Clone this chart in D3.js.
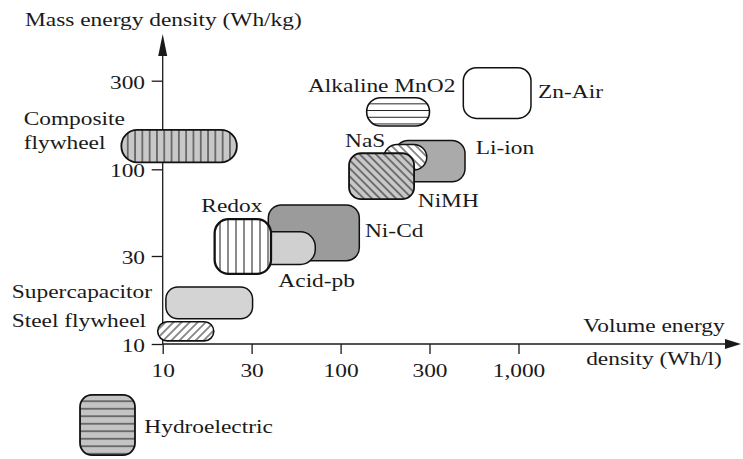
<!DOCTYPE html>
<meta charset="utf-8">
<html>
<style>
  body { margin: 0; background: #fff; }
  .chart text {
    fill: #1a1a1a;
    font: 19.5px "Liberation Serif", "Times New Roman", serif;
  }
  .axis line { stroke: #1a1a1a; stroke-width: 1.3; }
</style>
<script type="text/javascript" src="https://cdn.jsdelivr.net/npm/d3@7"></script>

<body>
  <svg class="chart"></svg>
</body>
<script>
  var width = 743;
  var height = 459;

  // storage technologies (draw order)
  var names = ["Composite flywheel", "Supercapacitor", "Steel flywheel", "Ni-Cd", "Acid-pb", "Redox",
    "Zn-Air", "Alkaline MnO2", "Li-ion", "NaS", "NiMH", "Hydroelectric"];
  // volume energy density range (Wh/l)
  var volMin = [6, 10.4, 9.4, 37.6, 32, 19, 474, 138, 196, 171, 111, 3.6];
  var volMax = [25, 30.4, 18.8, 126, 71, 39, 1184, 300, 485, 290, 248, 7.1];
  // mass energy density range (Wh/kg)
  var massMin = [109, 13.7, 10.4, 28.3, 27, 24, 188, 171, 84, 99, 66, 2.5];
  var massMax = [163, 20.4, 13.2, 61, 42, 50, 352, 243, 143, 136, 122, 5.3];

  var xTicks = [10, 30, 100, 300, 1000];
  var yTicks = [10, 30, 100, 300];

  // look of each box
  var style = {
    "Composite flywheel": { fill: "url(#vl7)", rx: 16, sw: 1.8 },
    "Supercapacitor": { fill: "#d4d4d4", rx: 12, sw: 1.5 },
    "Steel flywheel": { fill: "url(#dgF)", rx: 9.5, sw: 1.6 },
    "Ni-Cd": { fill: "#9b9b9b", rx: 13, sw: 1.5 },
    "Acid-pb": { fill: "#d0d0d0", rx: 15, sw: 1.5 },
    "Redox": { fill: "url(#vl8)", rx: 14, sw: 2.3 },
    "Zn-Air": { fill: "#fff", rx: 13, sw: 1.5 },
    "Alkaline MnO2": { fill: "url(#hlA)", rx: 14, sw: 1.6 },
    "Li-ion": { fill: "#aaaaaa", rx: 13, sw: 1.5 },
    "NaS": { fill: "url(#dgB)", rx: 13, sw: 1.5 },
    "NiMH": { fill: "url(#dgBg)", rx: 12, sw: 1.8 },
    "Hydroelectric": { fill: "url(#hlH)", rx: 12, sw: 1.8 }
  };

  // label offsets from the top-left corner of each box
  var labels = {
    "Composite flywheel": { lines: ["Composite", "flywheel"], dx: -97.7, dy: -5 },
    "Supercapacitor": { lines: ["Supercapacitor"], dx: -154, dy: 11.6 },
    "Steel flywheel": { lines: ["Steel flywheel"], dx: -146, dy: 5 },
    "Ni-Cd": { lines: ["Ni-Cd"], dx: 96.7, dy: 31.7 },
    "Acid-pb": { lines: ["Acid-pb"], dx: 22, dy: 55 },
    "Redox": { lines: ["Redox"], dx: -13.3, dy: -7.6 },
    "Zn-Air": { lines: ["Zn-Air"], dx: 74.7, dy: 30.3 },
    "Alkaline MnO2": { lines: ["Alkaline MnO2"], dx: -58.7, dy: -6 },
    "Li-ion": { lines: ["Li-ion"], dx: 80.7, dy: 13.3 },
    "NaS": { lines: ["NaS"], dx: -39, dy: 2.4 },
    "NiMH": { lines: ["NiMH"], dx: 68.7, dy: 53.4 },
    "Hydroelectric": { lines: ["Hydroelectric"], dx: 64.3, dy: 38 }
  };

  var x = d3.scaleLog()
    .domain(xTicks)
    .range([162.7, 251.6, 340.6, 429.5, 518.5]);

  var y = d3.scaleLog()
    .domain(yTicks)
    .range([344, 256, 169.3, 80.7]);

  var chart = d3.select(".chart")
    .attr("width", width)
    .attr("height", height);

  var stretch = "scale(1.2,1)";

  function label(txt, px, py, anchor) {
    chart.append("text")
      .attr("transform", "translate(" + px + "," + py + ") " + stretch)
      .attr("text-anchor", anchor || "start")
      .text(txt);
  }

  // hatch patterns
  var defs = chart.append("defs");
  function hatch(id, bg, size, angle) {
    var p = defs.append("pattern")
      .attr("id", id)
      .attr("patternUnits", "userSpaceOnUse")
      .attr("width", size)
      .attr("height", size)
      .attr("patternTransform", "rotate(" + angle + ")");
    p.append("rect").attr("width", size).attr("height", size).attr("fill", bg);
    p.append("line")
      .attr("x1", size / 2).attr("x2", size / 2)
      .attr("y1", 0).attr("y2", size)
      .attr("stroke", "#1a1a1a")
      .attr("stroke-width", 1);
  }
  hatch("vl7", "#c8c8c8", 7.3, 0);
  hatch("vl8", "#fff", 8, 0);
  hatch("hlA", "#fff", 6.7, 90);
  hatch("hlH", "#c4c4c4", 7.5, 90);
  hatch("dgB", "#fff", 5.7, -45);
  hatch("dgBg", "#c8c8c8", 5.7, -45);
  hatch("dgF", "#fff", 5.7, 45);

  // axes
  var xAxis = d3.axisBottom(x)
    .tickValues(xTicks)
    .tickFormat(d3.format(","))
    .tickSize(10)
    .tickSizeOuter(0)
    .tickPadding(9);

  var yAxis = d3.axisLeft(y)
    .tickValues(yTicks)
    .tickFormat(d3.format(","))
    .tickSize(11)
    .tickSizeOuter(0);

  var gx = chart.append("g")
    .attr("class", "axis")
    .attr("transform", "translate(0," + y(10) + ")")
    .call(xAxis);
  gx.select(".domain").remove();
  gx.selectAll("text")
    .attr("font-family", null).attr("font-size", null)
    .attr("transform", stretch);

  var gy = chart.append("g")
    .attr("class", "axis")
    .attr("transform", "translate(" + x(10) + ",0)")
    .call(yAxis);
  gy.select(".domain").remove();
  gy.selectAll("text")
    .attr("x", -17.7 / 1.2)
    .attr("dy", "0.38em")
    .attr("transform", stretch);
  chart.selectAll(".axis").attr("font-family", null).attr("font-size", null);

  // axis lines with arrow heads
  chart.append("line")
    .attr("x1", x(10)).attr("x2", 726)
    .attr("y1", y(10)).attr("y2", y(10))
    .attr("stroke", "#1a1a1a").attr("stroke-width", 1.3);
  chart.append("path")
    .attr("d", "M741," + y(10) + "L725," + (y(10) - 5) + "L725," + (y(10) + 5) + "Z")
    .attr("fill", "#1a1a1a");
  chart.append("line")
    .attr("x1", x(10)).attr("x2", x(10))
    .attr("y1", y(10)).attr("y2", 55)
    .attr("stroke", "#1a1a1a").attr("stroke-width", 1.3);
  chart.append("path")
    .attr("d", "M" + x(10) + ",34L" + (x(10) - 4.5) + ",56L" + (x(10) + 4.5) + ",56Z")
    .attr("fill", "#1a1a1a");

  label("Mass energy density (Wh/kg)", 25, 26);
  label("Volume energy", 654, 331.7, "middle");
  label("density (Wh/l)", 654, 365, "middle");

  // boxes
  var idx = d3.range(names.length);

  chart.selectAll("rect.tech")
    .data(idx)
    .enter().append("rect")
    .attr("class", "tech")
    .attr("x", function(i) { return x(volMin[i]); })
    .attr("y", function(i) { return y(massMax[i]); })
    .attr("width", function(i) { return x(volMax[i]) - x(volMin[i]); })
    .attr("height", function(i) { return y(massMin[i]) - y(massMax[i]); })
    .attr("rx", function(i) { return style[names[i]].rx; })
    .attr("fill", function(i) { return style[names[i]].fill; })
    .attr("stroke", "#111")
    .attr("stroke-width", function(i) { return style[names[i]].sw; });

  idx.forEach(function(i) {
    var lb = labels[names[i]];
    var x0 = x(volMin[i]) + lb.dx;
    var y0 = y(massMax[i]) + lb.dy;
    lb.lines.forEach(function(t, k) {
      label(t, x0, y0 + k * 24);
    });
  });
</script>

</html>
